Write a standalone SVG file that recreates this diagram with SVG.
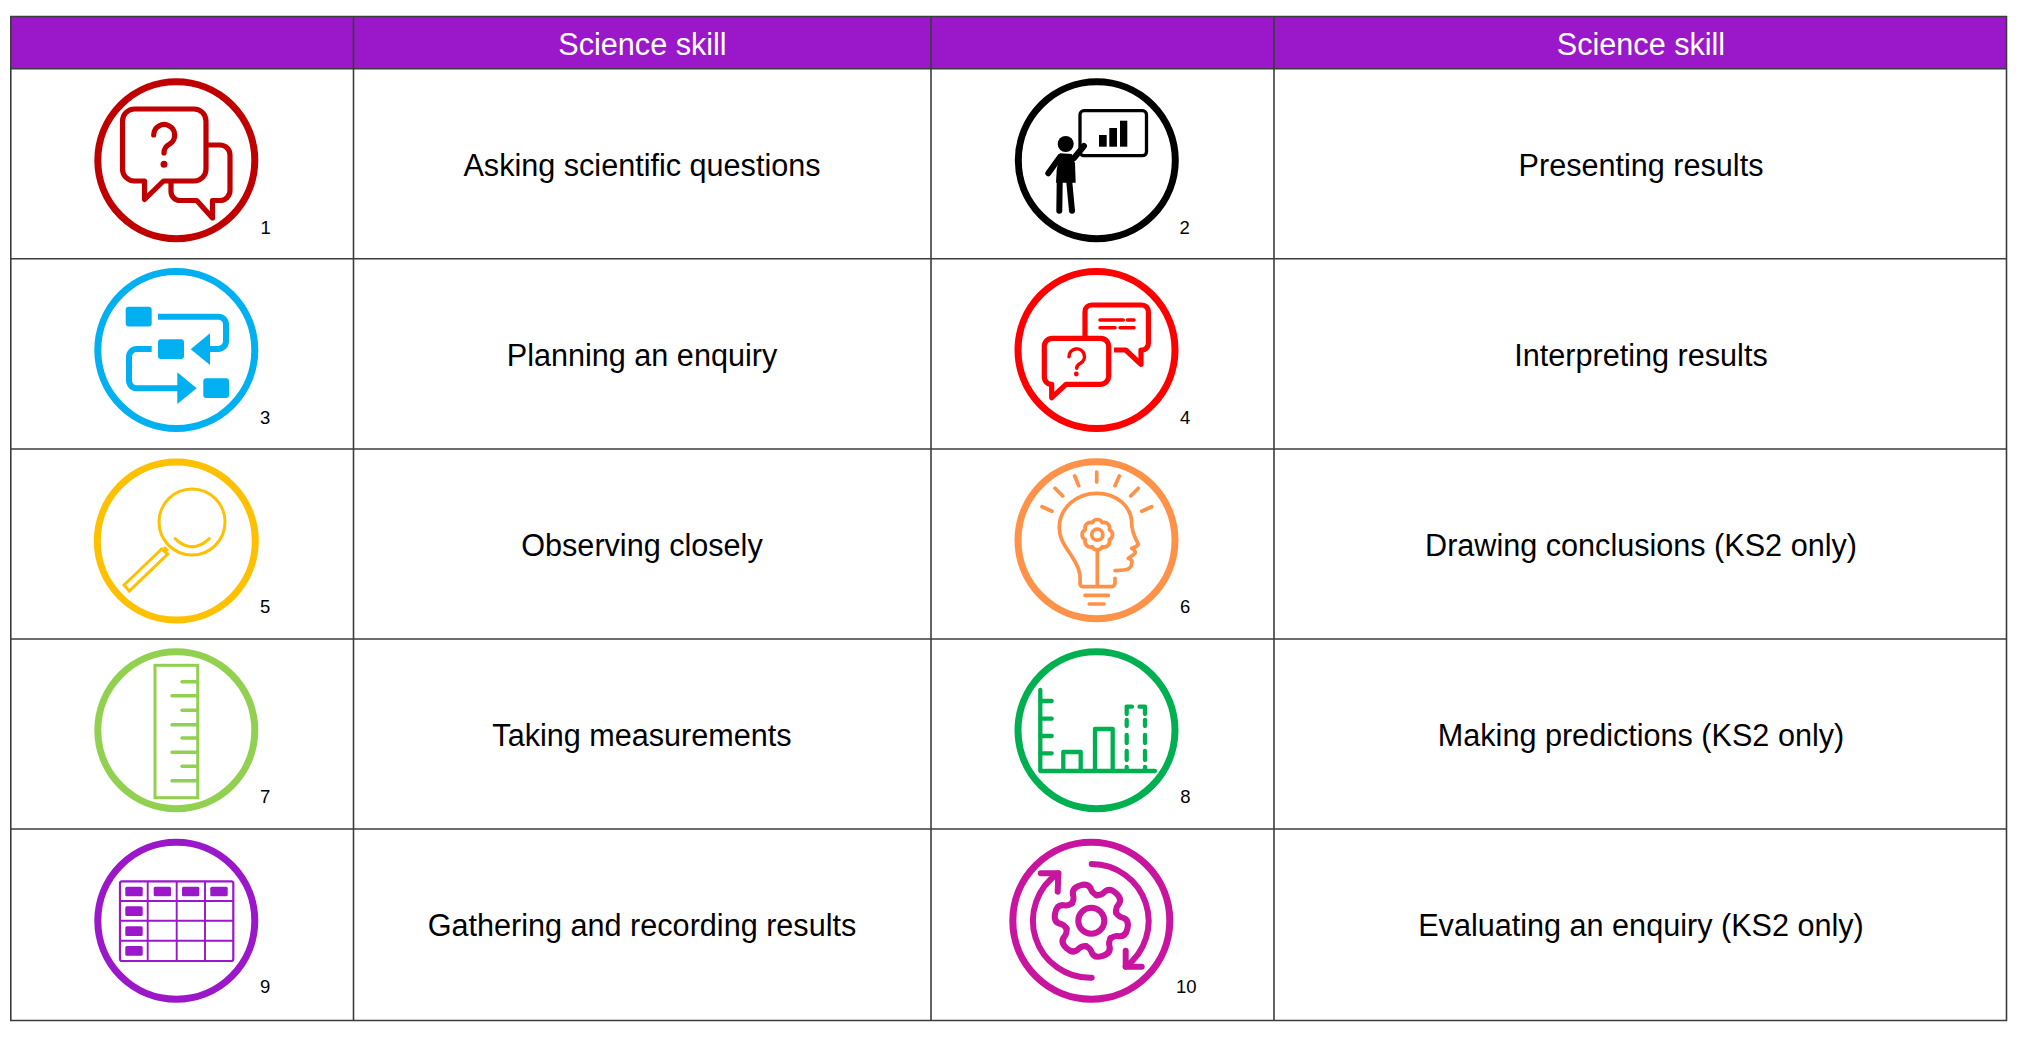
<svg xmlns="http://www.w3.org/2000/svg" width="2018" height="1038" viewBox="0 0 2018 1038">
<style>
text{font-family:"Liberation Sans",Arial,sans-serif}
.t{font-size:30.6px;fill:#000;text-anchor:middle}
.h{font-size:30.6px;fill:#fff;text-anchor:middle}
.n{font-size:18.5px;fill:#000}
.grid line{stroke:#3c3c3c;stroke-width:1.6}
.i{fill:none;stroke-linecap:round;stroke-linejoin:round}
.ring{fill:none;stroke-width:7}
</style>
<defs>
<path id="tooth" d="M22.5 -13Q26 -9.500 29 -9.500Q37 -9.500 37 0Q37 9.500 29 9.500Q26 9.500 22.500 13"/>
</defs>
<rect width="2018" height="1038" fill="#fff"/>
<rect x="10.5" y="16.5" width="1996.5" height="52" fill="#9a18ca"/>
<g id="connectors" class="grid">
<line x1="10" y1="16.5" x2="2007" y2="16.5"/>
<line x1="10" y1="68.8" x2="2007" y2="68.8"/>
<line x1="10" y1="258.8" x2="2007" y2="258.8"/>
<line x1="10" y1="449" x2="2007" y2="449"/>
<line x1="10" y1="639" x2="2007" y2="639"/>
<line x1="10" y1="829" x2="2007" y2="829"/>
<line x1="10" y1="1020.5" x2="2007" y2="1020.5"/>
<line x1="10.8" y1="16" x2="10.8" y2="1021"/>
<line x1="353.5" y1="16" x2="353.5" y2="1021"/>
<line x1="931" y1="16" x2="931" y2="1021"/>
<line x1="1274" y1="16" x2="1274" y2="1021"/>
<line x1="2006.5" y1="16" x2="2006.5" y2="1021"/>
</g>
<g id="header">
<text class="h" x="642.500" y="55">Science skill</text>
<text class="h" x="1641" y="55">Science skill</text>
</g>
<g id="labels">
<text class="t" x="642" y="176">Asking scientific questions</text>
<text class="t" x="1641" y="176">Presenting results</text>
<text class="t" x="642" y="366">Planning an enquiry</text>
<text class="t" x="1641" y="366">Interpreting results</text>
<text class="t" x="642" y="556">Observing closely</text>
<text class="t" x="1641" y="556">Drawing conclusions (KS2 only)</text>
<text class="t" x="642" y="746">Taking measurements</text>
<text class="t" x="1641" y="746">Making predictions (KS2 only)</text>
<text class="t" x="642" y="936">Gathering and recording results</text>
<text class="t" x="1641" y="936">Evaluating an enquiry (KS2 only)</text>
</g>
<g id="node1">
<circle class="ring" cx="176.300" cy="160.300" r="78.500" stroke="#c00000"/>
<g class="i" stroke="#c00000" stroke-width="5.200">
<path d="M134 109H194a12 12 0 0 1 12 12V169a12 12 0 0 1-12 12H163.500L144.500 199.500V181H134.500a12 12 0 0 1-12-12V121a12 12 0 0 1 12-12Z"/>
<path d="M208 145H220a10 10 0 0 1 10 10V190.500a10 10 0 0 1-10 10H212.500V218L196.700 200.500H180a9 9 0 0 1-9-9V183"/>
<path d="M153.700 135a10.500 10.500 0 1 1 16 9q-5.700 3-5.700 9"/>
</g>
<circle cx="164" cy="164.300" r="3.500" fill="#c00000"/>
<text class="n" x="260.500" y="234.300">1</text>
</g>
<g id="node2">
<circle class="ring" cx="1096.800" cy="160.300" r="78.500" stroke="#000"/>
<rect x="1080" y="110.700" width="66.500" height="45" rx="4" fill="none" stroke="#000" stroke-width="3.300"/>
<rect x="1099" y="135" width="7.700" height="11.700"/>
<rect x="1109.300" y="128" width="7.700" height="18.700"/>
<rect x="1120" y="120.700" width="7.300" height="26"/>
<circle cx="1065.700" cy="144" r="8"/>
<path d="M1060 153.300L1071.700 154L1075 163.300L1075.700 182.700H1056L1056.700 170Z"/>
<g class="i" stroke="#000" stroke-width="6">
<path d="M1060 157L1048.300 173.300"/>
<path d="M1074 158L1084 146"/>
<path d="M1059.700 182L1059.300 210.700"/>
<path d="M1069.300 182L1072 210.700"/>
</g>
<text class="n" x="1179.500" y="234.300">2</text>
</g>
<g id="node3" fill="#00b0f0">
<circle class="ring" cx="176.300" cy="350" r="78.500" stroke="#00b0f0"/>
<rect x="125.700" y="306.700" width="26" height="19.700" rx="3"/>
<rect x="158" y="339.300" width="26" height="19.700" rx="3"/>
<rect x="203.300" y="378.300" width="25.700" height="19.700" rx="3"/>
<path d="M158 316.700H218.300a7.700 7.700 0 0 1 7.700 7.700V341.300a7.700 7.700 0 0 1-7.700 7.700H206.700" fill="none" stroke="#00b0f0" stroke-width="6"/>
<path d="M210 333.300V365L190.700 349.300Z"/>
<path d="M151.700 349H136.700a7.700 7.700 0 0 0-7.700 7.700V380.600a7.700 7.700 0 0 0 7.700 7.700H180" fill="none" stroke="#00b0f0" stroke-width="6"/>
<path d="M177.300 372.300V404L196.700 388.300Z"/>
<text class="n" x="260" y="424" fill="#000">3</text>
</g>
<g id="node4">
<circle class="ring" cx="1096.500" cy="350" r="78.500" stroke="#f00"/>
<g class="i" stroke="#f00" stroke-width="5.200">
<path d="M1085 336.700V311.700a6.700 6.700 0 0 1 6.700-6.700H1141.700a6.700 6.700 0 0 1 6.700 6.700V343.300a6.700 6.700 0 0 1-6.700 6.700H1141V364.300L1125.700 350H1114" stroke-linecap="butt"/>
<path d="M1052.300 338.300H1100.700a8 8 0 0 1 8 8V376.300a8 8 0 0 1-8 8H1066L1051.700 397.700V384.300a7.400 7.400 0 0 1-7.400-8V346.300a8 8 0 0 1 8-8Z"/>
</g>
<g class="i" stroke="#f00" stroke-width="3.500">
<path d="M1100 320H1123.300M1127.500 320H1134M1100 327.700H1115M1120 327.700H1134"/>
<path d="M1069 356.700a7.700 7.700 0 1 1 11.500 6.600q-3.800 2-3.800 5"/>
</g>
<circle cx="1076.300" cy="374" r="2.400" fill="#f00"/>
<text class="n" x="1180" y="424">4</text>
</g>
<g id="node5">
<circle class="ring" cx="176.300" cy="541" r="79" stroke="#ffc000"/>
<g fill="none" stroke="#ffc000" stroke-width="3">
<circle cx="192" cy="522" r="33"/>
<path d="M175 538.700Q192 555 209.300 538.700" stroke-linecap="round"/>
<path d="M161.700 549L167.700 554L129.300 591L124 585Z"/>
<path d="M164 547L168 551"/>
</g>
<text class="n" x="260" y="613.300">5</text>
</g>
<g id="node6">
<circle class="ring" cx="1096.500" cy="540.300" r="78.500" stroke="#ff9248"/>
<g class="i" stroke="#ff9248" stroke-width="3.700">
<path d="M1042 506.700L1052 511.300M1055 488.300L1062.700 496M1074.700 476L1078.700 485.700M1096.700 472V482M1119.300 476L1115 485.700M1138.300 488.300L1130.700 496M1151.700 506.700L1141.700 511.300"/>
<path d="M1115 578.300V583a3.700 3.700 0 0 1-3.700 3.700H1083a3 3 0 0 1-3-3C1081 572 1078 566 1071 555C1062 542 1059 536 1059.300 526.700C1060 507 1077 493.300 1096.700 493.300C1117 493.300 1131.700 507 1131.700 523.300C1131.700 533 1136 539 1138.300 544.300Q1136 547.500 1131.700 548.300Q1136 551 1135 553.300Q1132 556 1128.300 558.300Q1133 560 1131.700 563.300Q1131.500 569.300 1124 570L1115 570.700"/>
<path d="M1097.300 551.700V586M1085 595.300H1108.300M1089.300 604H1104"/>
<path transform="translate(1097.300 534.700)" d="M12-5A5.500 5.500 0 0 1 12 5A5.500 5.500 0 0 1 5 12A5.500 5.500 0 0 1-5 12A5.500 5.500 0 0 1-12 5A5.500 5.500 0 0 1-12-5A5.500 5.500 0 0 1-5-12A5.500 5.500 0 0 1 5-12A5.500 5.500 0 0 1 12-5Z"/>
<circle cx="1097.300" cy="534.700" r="5.500"/>
</g>
<text class="n" x="1180" y="613.300">6</text>
</g>
<g id="node7">
<circle class="ring" cx="176.300" cy="730.300" r="78.500" stroke="#92d050"/>
<rect x="155" y="665.300" width="42.700" height="132.400" fill="none" stroke="#92d050" stroke-width="3"/>
<path class="i" stroke="#92d050" stroke-width="3.500" d="M182 681.700H197M172 695.700H197M182 710.300H197M172 724.700H197M182 738H197M172 752.300H197M182 766.300H197M172 780.700H197"/>
<text class="n" x="260" y="803.300">7</text>
</g>
<g id="node8">
<circle class="ring" cx="1096.500" cy="730.300" r="78.500" stroke="#00b050"/>
<g class="i" stroke="#00b050" stroke-width="4.300">
<path d="M1040.300 690V771H1155"/>
<path d="M1040.300 701H1051.700M1040.300 718.700H1051.700M1040.300 736H1051.700M1040.300 753.300H1051.700"/>
<path d="M1063.300 771V752H1080.700V771M1095 771V729H1112.700V771"/>
<path d="M1126.700 714V706.700H1132M1139.500 706.700H1145V714M1126.700 720V726M1126.700 735V743M1126.700 751V760M1126.700 767V769M1145 720V726M1145 735V743M1145 751V760M1145 767V769"/>
</g>
<text class="n" x="1180.300" y="803.300">8</text>
</g>
<g id="node9" fill="#9a18ca">
<circle class="ring" cx="176.300" cy="920.800" r="78.500" stroke="#9a18ca"/>
<rect x="120" y="881.300" width="113.300" height="79.700" rx="2" fill="none" stroke="#9a18ca" stroke-width="2.200"/>
<path d="M147.700 881.300V961M176.700 881.300V961M205 881.300V961M120 901H233.300M120 920.700H233.300M120 940.700H233.300" stroke="#9a18ca" stroke-width="1.900" fill="none"/>
<rect x="125.300" y="886.700" width="17.400" height="9.500" rx="1.500"/>
<rect x="153.700" y="886.700" width="17.300" height="9.500" rx="1.500"/>
<rect x="182" y="886.700" width="17.300" height="9.500" rx="1.500"/>
<rect x="210.300" y="886.700" width="17.400" height="9.500" rx="1.500"/>
<rect x="125.300" y="906.300" width="17.400" height="9.700" rx="1.500"/>
<rect x="125.300" y="926.300" width="17.400" height="9.700" rx="1.500"/>
<rect x="125.300" y="946" width="17.400" height="9.700" rx="1.500"/>
<text class="n" x="260" y="993.300" fill="#000">9</text>
</g>
<g id="node10">
<circle class="ring" cx="1091.300" cy="920.800" r="78.500" stroke="#c8149f"/>
<g class="i" stroke="#c8149f" stroke-width="6">
<path d="M1091.700 864A57 57 0 0 1 1125.700 966.700"/>
<path d="M1125.700 950.700V966.700H1141.700"/>
<path d="M1091.700 977.700A57 57 0 0 1 1058.300 873.300"/>
<path d="M1040.700 873.300H1058.300L1057.700 891.700"/>
<circle cx="1091.300" cy="920.700" r="13"/>
<g transform="translate(1091.300 920.700)">
<use href="#tooth" transform="rotate(12)"/>
<use href="#tooth" transform="rotate(72)"/>
<use href="#tooth" transform="rotate(132)"/>
<use href="#tooth" transform="rotate(192)"/>
<use href="#tooth" transform="rotate(252)"/>
<use href="#tooth" transform="rotate(312)"/>
</g>
</g>
<text class="n" x="1176" y="993.300">10</text>
</g>
</svg>
